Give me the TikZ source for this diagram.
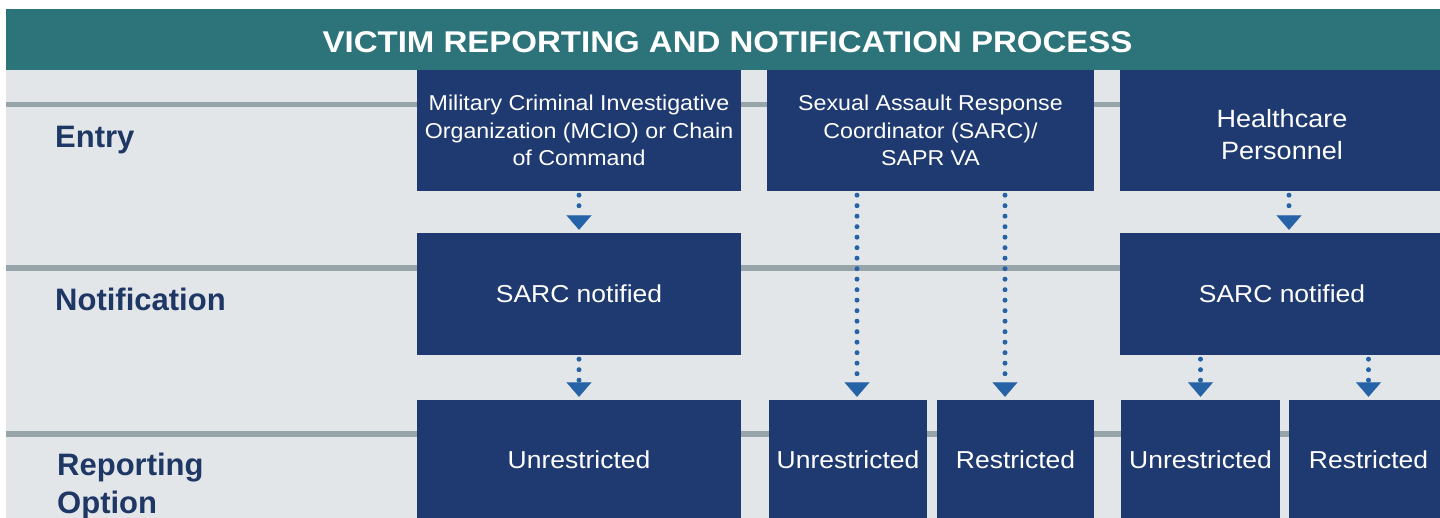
\documentclass[tikz,border=0pt]{standalone}
\usepackage{fontspec}
\setmainfont{Liberation Sans}
\newfontfamily\boxfont{Liberation Sans}[FakeStretch=1.08]
\newfontfamily\titlefont{Liberation Sans}[FakeStretch=1.1]
\usetikzlibrary{arrows.meta}
\definecolor{bannerteal}{RGB}{45,116,122}
\definecolor{boxnavy}{RGB}{31,58,112}
\definecolor{bggray}{RGB}{226,230,233}
\definecolor{rowgray}{RGB}{151,164,169}
\definecolor{flowblue}{RGB}{38,98,166}
\definecolor{labelnavy}{RGB}{31,55,100}
\begin{document}
\begin{tikzpicture}[x=1pt,y=-1pt,line join=round,
		box/.style={fill=boxnavy,text=white,inner sep=0pt,align=center,minimum height=121pt},
		rowlabel/.style={anchor=base west,text=labelnavy,font=\bfseries\fontsize{31}{38}\selectfont,align=left,inner sep=0pt},
		flow/.style={draw=flowblue,line width=5pt,line cap=round,dash pattern=on 0pt off 10.5pt,shorten <=4pt,shorten >=3pt,
			-{Triangle[width=25pt,length=14.5pt,line width=0.1pt,fill=flowblue]}}]
	\useasboundingbox (0,0) rectangle (1440,518);
	\fill[white] (0,0) rectangle (1440,518);
	\fill[bggray] (6,70) rectangle (1440,518);
	\fill[bannerteal] (6,9) rectangle (1440,70);
	\node[text=white,font=\titlefont\bfseries\fontsize{30}{34}\selectfont] (title) at (727.5,42) {VICTIM REPORTING AND NOTIFICATION PROCESS};
	% row rules behind the boxes
	\foreach \y in {104.5,268,434}
		\draw[rowgray,line width=5.5pt] (6,\y)--(1440,\y);
	\node[rowlabel] (entry) at (55,148) {Entry};
	\node[rowlabel] (notif) at (55,310.7) {Notification};
	\node[rowlabel] (option) at (57,513.3) {Reporting\\Option};
	% entry
	\node[box,minimum width=324pt,font=\boxfont\fontsize{21.5}{27.5}\selectfont] (mcio) at (579,130.5) {Military Criminal Investigative\\Organization (MCIO) or Chain\\of Command};
	\node[box,minimum width=327pt,font=\boxfont\fontsize{21.5}{27.5}\selectfont] (sarc) at (930.5,130.5) {Sexual Assault Response\\Coordinator (SARC)/\\SAPR VA};
	\node[box,minimum width=324pt,font=\boxfont\fontsize{25}{32}\selectfont] (health) at (1282,130.5) {\rule{0pt}{26pt}Healthcare\\Personnel};
	% notification
	\node[box,minimum width=324pt,minimum height=122pt,font=\boxfont\fontsize{24.5}{30}\selectfont] (notifA) at (579,294) {SARC notified};
	\node[box,minimum width=324pt,minimum height=122pt,font=\boxfont\fontsize{24.5}{30}\selectfont] (notifB) at (1282,294) {SARC notified};
	% reporting option
	\begin{scope}[every node/.style={box,minimum height=120pt,font=\boxfont\fontsize{24.5}{30}\selectfont}]
		\node[minimum width=324pt] (unrA) at (579,460) {Unrestricted};
		\node[minimum width=158pt] (unrB) at (848,460) {Unrestricted};
		\node[minimum width=157pt] (resB) at (1015.5,460) {Restricted};
		\node[minimum width=159pt] (unrC) at (1200.5,460) {Unrestricted};
		\node[minimum width=159pt] (resC) at (1368.5,460) {Restricted};
	\end{scope}
	% dotted flows
	\draw[flow] (mcio.south)--(notifA.north);
	\draw[flow] ([xshift=9pt]unrB.north |- sarc.south)--([xshift=9pt]unrB.north);
	\draw[flow] ([xshift=-10.5pt]resB.north |- sarc.south)--([xshift=-10.5pt]resB.north);
	\draw[flow] ([xshift=7pt]health.south)--([xshift=7pt]notifB.north);
	\draw[flow] (notifA.south)--(unrA.north);
	\draw[flow] (unrC.north |- notifB.south)--(unrC.north);
	\draw[flow] (resC.north |- notifB.south)--(resC.north);
\end{tikzpicture}
\end{document}
